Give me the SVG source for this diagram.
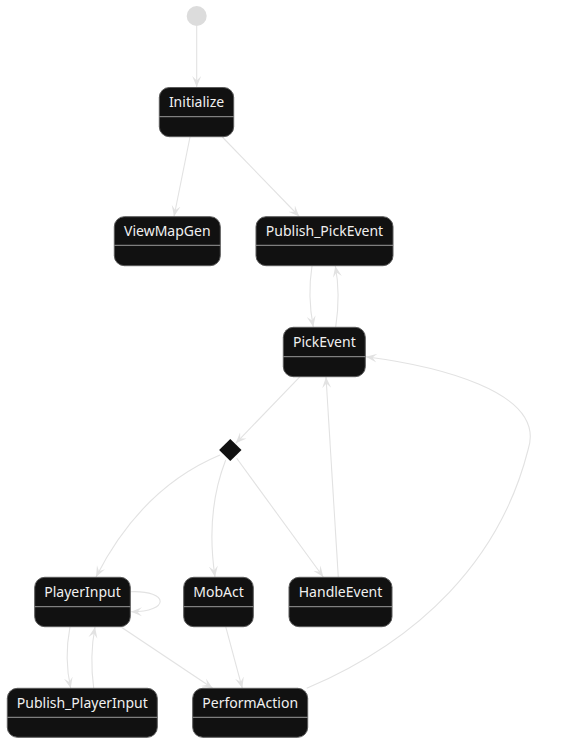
<svg xmlns="http://www.w3.org/2000/svg" width="581" height="743" viewBox="0 0 581 743">
<defs>
<style>
.n rect{fill:#111111;stroke:#5a5a5a;stroke-width:1}
.n line{stroke:#9a9a9a;stroke-width:1}
.n text{fill:#f0f0f0;font-family:"Noto Sans","DejaVu Sans",sans-serif;font-size:14px;text-anchor:middle}
.e path{fill:none;stroke:#e2e2e2;stroke-width:1.1;marker-end:url(#ah)}
</style>
<marker id="ah" viewBox="0 0 12 10" refX="11" refY="5" markerWidth="12" markerHeight="10" markerUnits="userSpaceOnUse" orient="auto">
<path d="M11,5 L0,0.5 L4.5,5 L0,9.5 Z" fill="#e2e2e2"/>
</marker>
</defs>
<rect width="581" height="743" fill="#ffffff"/>
<g id="connectors" class="e">
<path d="M196.7,26 L196.7,87"/>
<path d="M190,137 L174,216.5"/>
<path d="M222.3,137 L299.3,216.5"/>
<path d="M312,266 C309,285 309,305 313.3,327"/>
<path d="M335.7,327 C339,305 339,285 335.3,266"/>
<path d="M300,376.7 L235.7,443.3"/>
<path d="M220,455 C165,478 125,520 96,577"/>
<path d="M225.7,460 C214,490 208,530 215,577"/>
<path d="M236.7,458.3 L323.3,577"/>
<path d="M338.3,577.3 L326,377"/>
<path d="M306.7,688.3 C420,640 500,560 528,450 C548,390 430,365 366,356.7"/>
<path d="M130.3,591.7 C170,590 170,612 131,611.7"/>
<path d="M70,626.7 C66,648 66,668 70.7,688.3"/>
<path d="M93.7,688.3 C91,668 91,648 95,627"/>
<path d="M120.7,626.7 L212.7,688.3"/>
<path d="M225.7,626.7 L242.3,688.3"/>
</g>
<g id="start"><circle cx="196.7" cy="16" r="10" fill="#dcdcdc"/></g>
<g id="Initialize" class="n"><rect x="159.3" y="87.5" width="74.4" height="49.2" rx="10"/><line x1="159.3" y1="116.7" x2="233.7" y2="116.7"/><text x="196.5" y="106.7">Initialize</text></g>
<g id="ViewMapGen" class="n"><rect x="114.3" y="216.7" width="106" height="49" rx="10"/><line x1="114.3" y1="245.3" x2="220.3" y2="245.3"/><text x="167.3" y="236">ViewMapGen</text></g>
<g id="Publish_PickEvent" class="n"><rect x="256" y="216.7" width="137" height="49" rx="10"/><line x1="256" y1="245.3" x2="393" y2="245.3"/><text x="324.5" y="236">Publish_PickEvent</text></g>
<g id="PickEvent" class="n"><rect x="283.3" y="327.3" width="82" height="49.4" rx="10"/><line x1="283.3" y1="356.7" x2="365.3" y2="356.7"/><text x="324.3" y="346.7">PickEvent</text></g>
<g id="choice"><polygon points="230.3,439 241.5,450 230.3,461 219.1,450" fill="#111111"/></g>
<g id="PlayerInput" class="n"><rect x="34.7" y="577.3" width="95.6" height="49.4" rx="10"/><line x1="34.7" y1="606.7" x2="130.3" y2="606.7"/><text x="82.5" y="596.7">PlayerInput</text></g>
<g id="MobAct" class="n"><rect x="183.7" y="577.3" width="69.6" height="49.4" rx="10"/><line x1="183.7" y1="606.7" x2="253.3" y2="606.7"/><text x="218.5" y="596.7">MobAct</text></g>
<g id="HandleEvent" class="n"><rect x="289" y="577.3" width="103" height="49.4" rx="10"/><line x1="289" y1="606.7" x2="392" y2="606.7"/><text x="340.5" y="596.7">HandleEvent</text></g>
<g id="Publish_PlayerInput" class="n"><rect x="7.3" y="688.3" width="150" height="49" rx="10"/><line x1="7.3" y1="717.3" x2="157.3" y2="717.3"/><text x="82.3" y="707.7">Publish_PlayerInput</text></g>
<g id="PerformAction" class="n"><rect x="192.7" y="688.3" width="115" height="49" rx="10"/><line x1="192.7" y1="717.3" x2="307.7" y2="717.3"/><text x="250.2" y="707.7">PerformAction</text></g>
</svg>
